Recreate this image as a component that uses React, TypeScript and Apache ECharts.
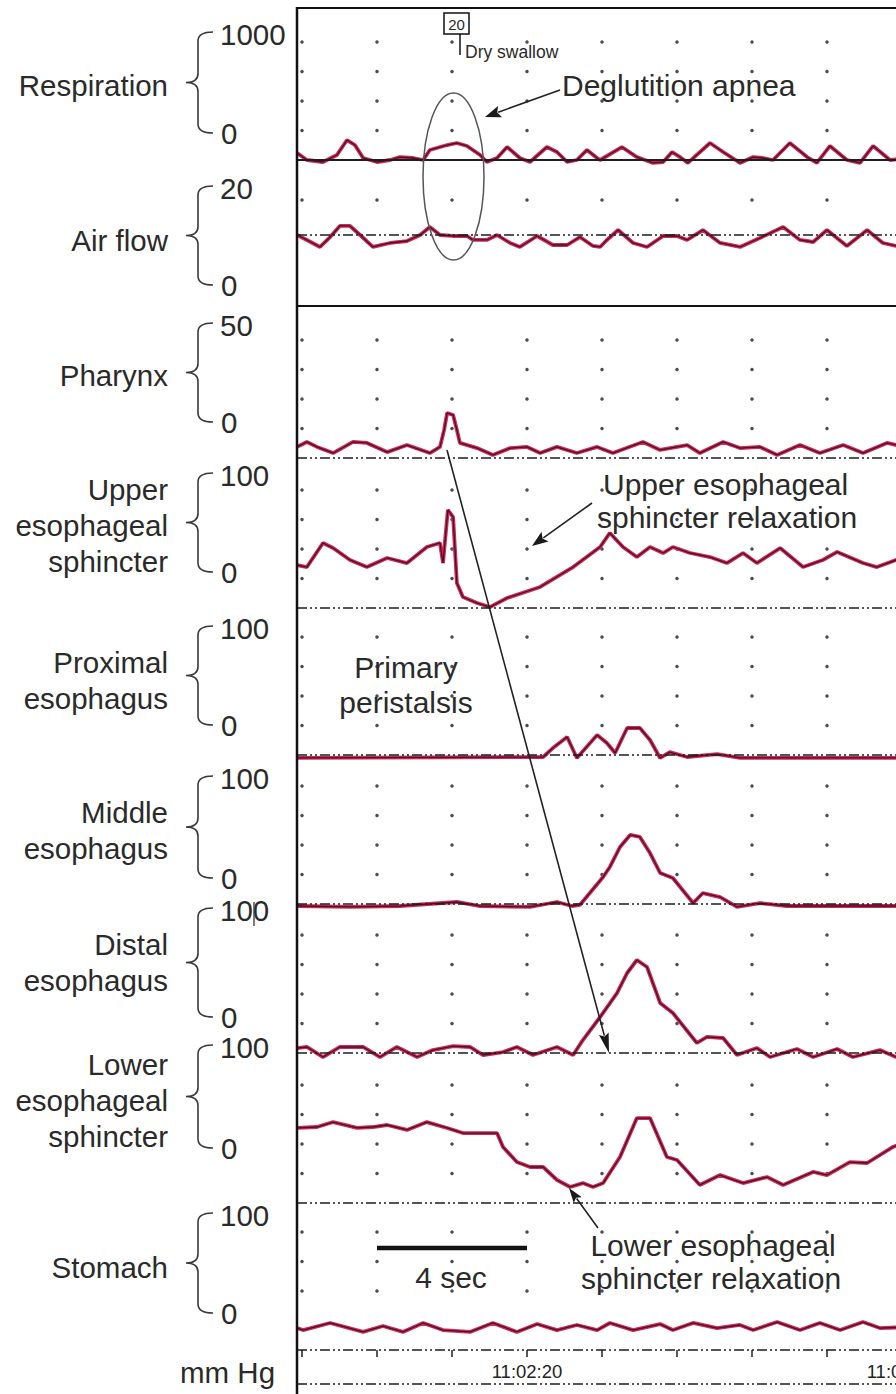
import { useEffect, useRef } from "react";
import * as echarts from "echarts";

// ---------- DATA (time in s after 11:02:00, values in channel units) ----------
const channelNames = [
  "Respiration",
  "Air flow",
  "Pharynx",
  "Upper\nesophageal\nsphincter",
  "Proximal\nesophagus",
  "Middle\nesophagus",
  "Distal\nesophagus",
  "Lower\nesophageal\nsphincter",
  "Stomach",
];
const topTickLabels = ["1000", "20", "50", "100", "100", "100", "100", "100", "100"];
const bottomTickLabels = ["0", "0", "0", "0", "0", "0", "0", "0", "0"];
const baselineValues = [0, 10, 0, 0, 0, 0, 0, 0, 0];

const dotTimes = [14, 16, 18, 20, 22, 24, 26, 28, 30];
const dotRows = [
  [250, 500, 750, 1000],
  [15],
  [12.5, 25, 37.5, 50],
  [25, 50, 75, 100],
  [25, 50, 75, 100],
  [25, 50, 75, 100],
  [25, 50, 75, 100],
  [25, 50, 75, 100],
  [50, 75, 100],
];

const timeTickValues = [14, 16, 18, 20, 22, 24, 26, 28, 30, 32];
const timeLabelValues = [20, 30];
const timeLabelTexts = ["11:02:20", "11:02:30"];

const respirationData = [
  [13.87, 59], [14.13, 0], [14.56, -17], [14.93, 42], [15.2, 169], [15.41, 127], [15.63, 17],
  [16.0, -17], [16.35, 0], [16.61, 25], [16.96, 17], [17.23, 0], [17.41, 85], [17.87, 127],
  [18.13, 144], [18.4, 119], [18.75, 42], [18.93, -17], [19.2, 17], [19.47, 110], [19.81, 17],
  [20.08, -17], [20.53, 110], [20.8, 68], [21.07, -17], [21.33, 0], [21.6, 85], [21.87, 17],
  [21.95, 0], [22.53, 110], [22.93, 25], [23.36, -25], [23.63, -17], [23.87, 68], [24.08, 25],
  [24.29, -25], [24.88, 144], [25.23, 68], [25.68, -25], [26.03, 25], [26.29, 17], [26.56, 0],
  [27.01, 144], [27.47, 25], [27.73, -25], [28.08, 119], [28.53, 0], [28.88, -25], [29.23, 119],
  [29.68, 0], [30.21, 17],
];
const airFlowData = [
  [13.87, 10], [14.13, 9.29], [14.48, 8.29], [14.75, 9.71], [15.01, 11.29], [15.28, 11.29],
  [15.55, 10], [15.89, 8.29], [16.35, 8.86], [16.8, 9.14], [17.15, 10], [17.41, 11.14],
  [17.68, 10], [18.03, 9.86], [18.4, 9.86], [18.56, 9.29], [18.93, 9.29], [19.2, 10],
  [19.55, 8.86], [19.81, 8.29], [20.27, 9.86], [20.69, 8.57], [21.07, 8.57], [21.41, 9.71],
  [21.76, 8.43], [21.95, 8.29], [22.13, 9.29], [22.43, 10.71], [22.83, 8.86], [23.2, 8.29],
  [23.63, 9.86], [24.0, 9.86], [24.27, 9.29], [24.69, 10.71], [25.15, 8.86], [25.68, 8.29],
  [26.21, 9.57], [26.83, 11.14], [27.28, 9.29], [27.63, 9.0], [28.0, 10.71], [28.53, 8.43],
  [29.07, 10.71], [29.49, 8.86], [29.84, 8.43], [30.21, 9.29],
];
const pharynxData = [
  [13.87, 4.7], [14.13, 6.8], [14.4, 4.7], [14.83, 2.1], [15.36, 6.8], [15.73, 6.4], [16.27, 2.5],
  [16.8, 5.5], [17.41, 2.1], [17.68, 4.7], [17.79, 11.9], [17.87, 19.1], [18.03, 18.2],
  [18.13, 11.9], [18.21, 6.4], [18.67, 4.2], [19.09, 1.3], [19.55, 4.2], [20.0, 4.7],
  [20.35, 2.1], [20.8, 4.7], [21.33, 2.1], [21.87, 4.7], [22.29, 2.1], [23.09, 6.8],
  [23.55, 3.4], [24.27, 5.5], [24.61, 2.1], [25.23, 6.8], [25.68, 4.2], [26.21, 4.7],
  [26.67, 1.3], [27.28, 5.5], [27.81, 2.1], [28.43, 5.5], [28.96, 2.1], [29.6, 6.4], [30.21, 4.2],
];
const uesData = [
  [13.87, 36.4], [14.13, 34.7], [14.56, 55.1], [14.83, 50.8], [15.28, 40.7], [15.73, 34.7],
  [16.27, 42.4], [16.8, 38.1], [17.33, 51.7], [17.68, 55.1], [17.76, 38.1], [17.89, 83.1],
  [18.03, 77.1], [18.13, 21.2], [18.29, 9.3], [18.67, 4.2], [19.01, 0.8], [19.47, 8.5],
  [20.35, 17.8], [21.23, 34.7], [21.95, 51.7], [22.21, 63.6], [22.56, 51.7], [22.93, 43.2],
  [23.28, 51.7], [23.63, 46.6], [23.89, 51.7], [24.35, 46.6], [24.88, 43.2], [25.33, 38.1],
  [25.76, 46.6], [26.13, 38.1], [26.75, 50.8], [27.36, 34.7], [27.89, 40.7], [28.27, 47.5],
  [28.96, 38.1], [29.33, 34.7], [29.84, 40.7], [30.21, 44.9],
];
const proximalData = [
  [13.87, -2.5], [20.43, -1.7], [20.69, 5.9], [21.07, 15.3], [21.33, -2.5], [21.87, 16.9],
  [22.13, 10.2], [22.35, 1.7], [22.67, 22.9], [23.01, 22.9], [23.28, 12.7], [23.55, -2.5],
  [23.81, 2.5], [24.27, -1.7], [25.07, 0.8], [25.68, -2.5], [30.21, -2.5],
];
const middleData = [
  [13.87, -1.7], [15.28, -2.5], [16.61, -1.7], [18.13, 1.7], [18.75, -1.7], [20.08, -2.5],
  [20.8, 1.7], [21.2, -1.7], [21.41, -0.8], [22.03, 22.9], [22.21, 31.4], [22.48, 48.3],
  [22.75, 58.5], [23.01, 56.8], [23.28, 43.2], [23.55, 26.3], [23.89, 22.0], [24.43, 0.8],
  [24.69, 9.3], [25.15, 5.9], [25.6, -2.5], [26.21, 0.8], [26.93, -1.7], [30.21, -1.7],
];
const distalData = [
  [13.87, 4.2], [14.13, 5.1], [14.56, -3.4], [15.01, 5.1], [15.63, 5.1], [16.08, -3.4],
  [16.53, 5.1], [17.07, -3.4], [17.49, 2.5], [18.03, 5.9], [18.48, 5.1], [18.83, -1.7],
  [19.36, 0.8], [19.73, 5.1], [20.16, -1.7], [20.8, 5.1], [21.23, -1.7], [21.49, 11.0],
  [21.95, 30.5], [22.4, 50.8], [22.67, 67.8], [22.93, 78.8], [23.2, 72.9], [23.55, 42.4],
  [23.89, 33.9], [24.53, 8.5], [24.8, 13.6], [25.23, 12.7], [25.6, -1.7], [26.13, 4.2],
  [26.48, -3.4], [27.2, 3.4], [27.63, -3.4], [28.27, 3.4], [28.69, -3.4], [29.41, 2.5],
  [29.84, -3.4], [30.21, 2.5],
];
const lesData = [
  [13.87, 63.6], [14.4, 64.4], [14.83, 68.6], [15.47, 63.6], [15.89, 64.4], [16.27, 66.1],
  [16.8, 61.9], [17.33, 68.6], [17.87, 63.6], [18.29, 59.3], [19.2, 59.3], [19.36, 47.5],
  [19.73, 34.7], [20.08, 30.5], [20.43, 30.5], [20.8, 19.5], [21.15, 13.6], [21.49, 16.9],
  [21.76, 13.6], [22.03, 16.9], [22.48, 39.0], [22.93, 72.0], [23.28, 72.0], [23.73, 39.0],
  [24.0, 36.4], [24.61, 15.3], [25.15, 23.7], [25.76, 16.9], [26.4, 22.0], [26.83, 15.3],
  [27.63, 26.3], [28.0, 23.7], [28.61, 34.7], [29.07, 33.9], [29.76, 47.5], [30.21, 53.4],
];
const stomachData = [
  [13.87, 18.6], [14.03, 16.9], [14.75, 22.9], [15.63, 15.3], [16.16, 20.3], [16.69, 15.3],
  [17.23, 22.9], [17.76, 16.9], [18.48, 15.3], [19.09, 22.9], [19.73, 15.3], [20.27, 22.0],
  [20.8, 16.9], [21.33, 21.2], [21.87, 16.9], [22.21, 22.9], [22.83, 16.9], [23.55, 22.0],
  [23.89, 16.9], [24.43, 22.9], [25.07, 18.6], [25.68, 21.2], [26.03, 16.9], [26.67, 23.7],
  [27.28, 16.9], [27.81, 22.9], [28.35, 16.9], [28.96, 23.7], [29.41, 18.6], [30.21, 19.5],
];
const traces = [
  respirationData, airFlowData, pharynxData, uesData, proximalData,
  middleData, distalData, lesData, stomachData,
];

// ---------- LAYOUT (pixels) ----------
const FONT = '"Liberation Sans", Arial, Helvetica, sans-serif';
const CHART_W = 1000; // drawn wider than the 896px window, then cut off
const X_LEFT = 297;
const PX_PER_S = 37.5;
const X_MIN = 20 - (527 - X_LEFT) / PX_PER_S;
const GRID_W = 675;
const X_MAX = X_MIN + GRID_W / PX_PER_S;

const LAYOUT = [
  { B: 160, ppu: 0.118, yMin: -300, yMax: 1100, solid: true, lt: 34, lb: 133, ny: 85 },
  { B: 235, ppu: 7, yMin: 4, yMax: 17, lt: 188, lb: 285, ny: 240 },
  { B: 458, ppu: 2.36, yMin: -5, yMax: 55, lt: 325, lb: 422, ny: 375 },
  { B: 608, ppu: 1.18, yMin: -10, yMax: 110, lt: 475, lb: 572, ny: 525 },
  { B: 755, ppu: 1.18, yMin: -10, yMax: 110, lt: 628, lb: 725, ny: 680 },
  { B: 904, ppu: 1.18, yMin: -10, yMax: 110, lt: 778, lb: 878, ny: 830 },
  { B: 1053, ppu: 1.18, yMin: -10, yMax: 110, lt: 910, lb: 1017, ny: 962 },
  { B: 1203, ppu: 1.18, yMin: -10, yMax: 110, lt: 1047, lb: 1148, ny: 1100 },
  { B: 1350, ppu: 1.18, yMin: 0, yMax: 110, lt: 1215, lb: 1313, ny: 1267 },
];

// brace shapes
LAYOUT.forEach((L, i) => {
  const top = L.lt - 2;
  const bot = L.lb;
  const mid = (top + bot) / 2;
  const d =
    `M213 ${top} Q198 ${top} 198 ${top + 9} L198 ${mid - 9} Q198 ${mid} 186 ${mid} ` +
    `Q198 ${mid} 198 ${mid + 9} L198 ${bot - 9} Q198 ${bot} 213 ${bot}`;
  echarts.graphic.registerShape("brace" + i, echarts.graphic.extendPath(d, {}));
});

function text(t: string, x: number, y: number, size: number, align = "left", lh = 36, extra: any = {}) {
  return {
    type: "text",
    x,
    y,
    z: 100,
    style: {
      text: t,
      fill: "#2a2a2a",
      fontSize: size,
      fontFamily: FONT,
      align,
      verticalAlign: "middle",
      textAlign: align,
      textVerticalAlign: "middle",
      lineHeight: lh,
      ...extra,
    },
  };
}

function line(x1: number, y1: number, x2: number, y2: number, w = 1.5, color = "#222", dash?: number[]) {
  return {
    type: "line",
    z: 100,
    shape: { x1, y1, x2, y2 },
    style: { stroke: color, lineWidth: w, lineDash: dash },
  };
}

function arrow(x1: number, y1: number, x2: number, y2: number, len: number, hw: number) {
  const dx = x2 - x1;
  const dy = y2 - y1;
  const L = Math.sqrt(dx * dx + dy * dy);
  const ux = dx / L;
  const uy = dy / L;
  const bx = x2 - ux * len;
  const by = y2 - uy * len;
  return [
    line(x1, y1, bx + ux * 2, by + uy * 2, 1.6, "#222"),
    {
      type: "polygon",
      z: 100,
      shape: {
        points: [
          [x2, y2],
          [bx - uy * hw, by + ux * hw],
          [bx + ux * 3, by + uy * 3],
          [bx + uy * hw, by - ux * hw],
        ],
      },
      style: { fill: "#1a1a1a" },
    },
  ];
}

function buildOption() {
  const grids: any[] = [];
  const xAxes: any[] = [];
  const yAxes: any[] = [];
  const series: any[] = [];

  LAYOUT.forEach((L, i) => {
    const base = baselineValues[i];
    grids.push({
      left: X_LEFT,
      width: GRID_W,
      top: L.B - (L.yMax - base) * L.ppu,
      height: (L.yMax - L.yMin) * L.ppu,
      containLabel: false,
    });
    xAxes.push({ gridIndex: i, type: "value", min: X_MIN, max: X_MAX, show: false });
    yAxes.push({ gridIndex: i, type: "value", min: L.yMin, max: L.yMax, show: false });

    const dots: number[][] = [];
    dotTimes.forEach((t) => dotRows[i].forEach((r) => dots.push([t, r])));
    series.push({
      type: "scatter",
      xAxisIndex: i,
      yAxisIndex: i,
      data: dots,
      symbol: "circle",
      symbolSize: 3.5,
      itemStyle: { color: "#222" },
      silent: true,
      z: 2,
    });
    series.push({
      type: "line",
      xAxisIndex: i,
      yAxisIndex: i,
      data: traces[i],
      symbol: "none",
      showSymbol: false,
      clip: false,
      silent: true,
      z: 3,
      lineStyle: { width: 3.8, color: "#cf2a57" },
      markLine: {
        silent: true,
        symbol: "none",
        label: { show: false },
        lineStyle: {
          color: "#1e1e1e",
          width: L.solid ? 1.8 : 1.5,
          type: L.solid ? "solid" : [10, 3, 2, 3, 2, 3],
        },
        data: [{ yAxis: base }],
      },
    });
    series.push({
      type: "line",
      xAxisIndex: i,
      yAxisIndex: i,
      data: traces[i],
      symbol: "none",
      showSymbol: false,
      clip: false,
      silent: true,
      z: 4,
      lineStyle: { width: 1.3, color: "#4a1024" },
    });
  });

  // time axis grid
  const ti = LAYOUT.length;
  grids.push({ left: 302, width: 675, top: 1349, height: 1, containLabel: false });
  xAxes.push({
    gridIndex: ti,
    type: "value",
    min: timeTickValues[0],
    max: timeTickValues[timeTickValues.length - 1],
    interval: 2,
    position: "bottom",
    axisLine: { show: false },
    splitLine: { show: false },
    axisTick: { show: true, length: 7, lineStyle: { color: "#222", width: 1.5 } },
    axisLabel: {
      show: true,
      margin: 12,
      fontSize: 18.5,
      fontFamily: FONT,
      color: "#222",
      showMinLabel: true,
      showMaxLabel: true,
      formatter: (v: number) => {
        const k = timeLabelValues.indexOf(Math.round(v));
        return k >= 0 ? timeLabelTexts[k] : "";
      },
    },
  });
  yAxes.push({ gridIndex: ti, type: "value", min: 0, max: 1, show: false });

  const graphics: any[] = [];
  // frame
  graphics.push(line(X_LEFT, 7, X_LEFT, 1394, 2.5, "#111"));
  graphics.push(line(X_LEFT, 8, CHART_W, 8, 2.2, "#111"));
  graphics.push(line(X_LEFT, 306, CHART_W, 306, 2.2, "#111"));
  graphics.push(line(X_LEFT, 1384, CHART_W, 1384, 1.5, "#1e1e1e", [10, 3, 2, 3, 2, 3]));

  // left labels and braces
  LAYOUT.forEach((L, i) => {
    graphics.push(text(channelNames[i], 168, L.ny, 29.5, "right", 36));
    graphics.push(text(topTickLabels[i], 220, L.lt, 29.5, "left"));
    graphics.push(text(bottomTickLabels[i], 221, L.lb, 29.5, "left"));
    graphics.push({
      type: "brace" + i,
      z: 100,
      style: { stroke: "#3a3a3a", fill: "none", lineWidth: 1.6 },
    });
  });
  graphics.push(line(254, 902, 254, 926, 1.4, "#444"));
  graphics.push(text("mm Hg", 180, 1372, 29.5, "left"));

  // dry swallow marker
  graphics.push({
    type: "rect",
    z: 100,
    shape: { x: 444, y: 13, width: 25, height: 21 },
    style: { stroke: "#111", fill: "#fff", lineWidth: 1.5 },
  });
  graphics.push(text("20", 456.5, 24, 15, "center"));
  graphics.push(line(460, 34, 460, 55, 1.5, "#111"));
  graphics.push(text("Dry swallow", 465, 52, 17.5, "left"));

  // deglutition apnea
  graphics.push({
    type: "ellipse",
    z: 100,
    shape: { cx: 453.5, cy: 176.5, rx: 30.5, ry: 83.5 },
    style: { stroke: "#555", fill: "none", lineWidth: 1.5 },
  });
  graphics.push(...arrow(560, 90, 485, 117, 16, 6));
  graphics.push(text("Deglutition apnea", 562, 85, 30, "left"));

  // UES relaxation
  graphics.push(...arrow(592, 503, 532, 546, 16, 6));
  graphics.push(text("Upper esophageal", 603, 484, 30, "left"));
  graphics.push(text("sphincter relaxation", 597, 517, 30, "left"));

  // primary peristalsis
  graphics.push(text("Primary", 406, 667, 30, "center"));
  graphics.push(text("peristalsis", 406, 702, 30, "center"));
  graphics.push(...arrow(447, 450, 609, 1053, 20, 5));

  // LES relaxation
  graphics.push(...arrow(598, 1228, 569, 1188, 15, 5));
  graphics.push(text("Lower esophageal", 713, 1245, 30, "center"));
  graphics.push(text("sphincter relaxation", 711, 1278, 30, "center"));

  // scale bar
  graphics.push(line(377, 1248, 527, 1248, 4.5, "#111"));
  graphics.push(text("4 sec", 451, 1277, 30, "center"));

  return {
    animation: false,
    backgroundColor: "#fff",
    grid: grids,
    xAxis: xAxes,
    yAxis: yAxes,
    series,
    graphic: { elements: graphics },
  };
}

export default function App() {
  const ref = useRef<HTMLDivElement>(null);
  useEffect(() => {
    if (!ref.current) return;
    const chart = echarts.init(ref.current, undefined, { renderer: "svg", width: CHART_W, height: 1394 });
    chart.setOption(buildOption() as any);
    return () => chart.dispose();
  }, []);
  return (
    <div
      style={{
        position: "absolute",
        left: 0,
        top: 0,
        width: 896,
        height: 1394,
        overflow: "hidden",
        background: "#fff",
      }}
    >
      <div ref={ref} style={{ width: CHART_W, height: 1394 }} />
    </div>
  );
}
